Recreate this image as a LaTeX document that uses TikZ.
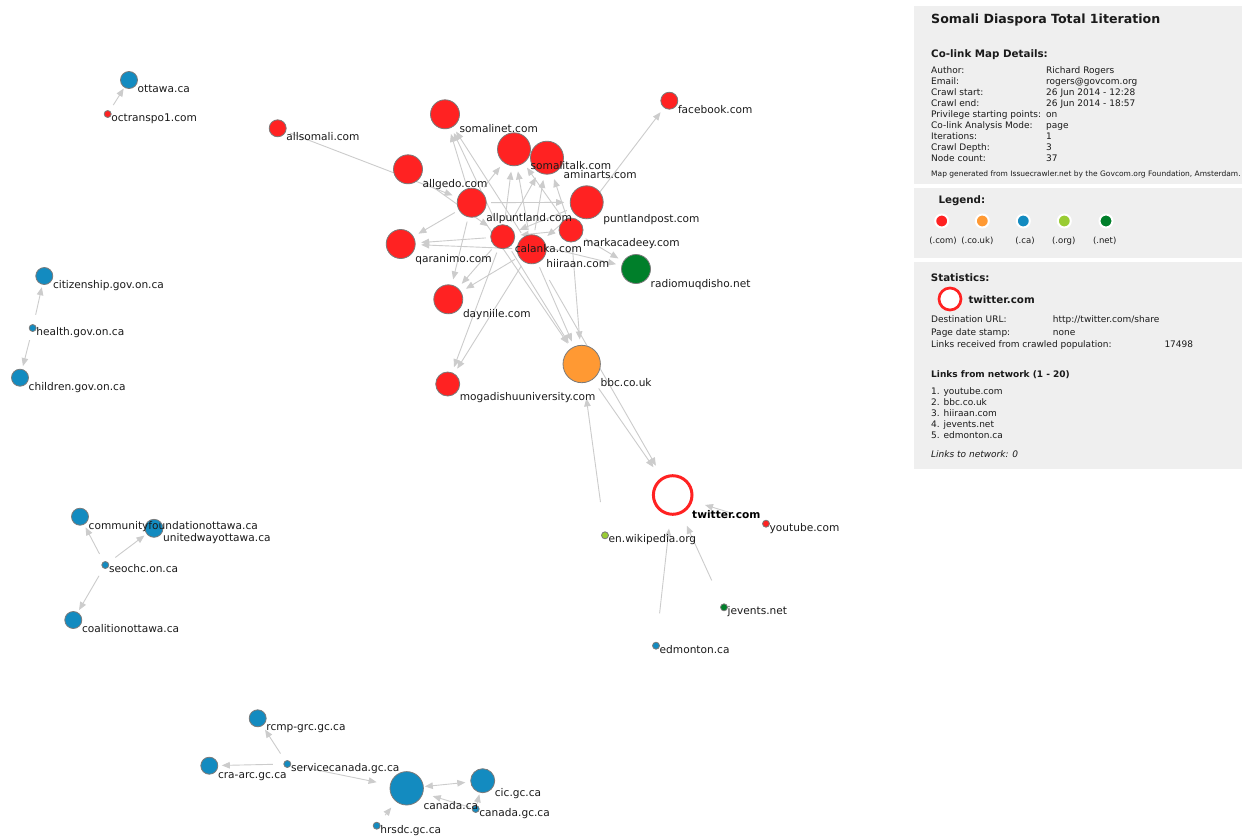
\documentclass[tikz,border=0pt]{standalone}
\usepackage{fontspec}
\setmainfont{DejaVu Sans}
\usetikzlibrary{arrows.meta}
\pgfdeclarelayer{edgelayer}
\pgfdeclarelayer{textlayer}
\pgfsetlayers{edgelayer,main,textlayer}

\definecolor{comRed}{HTML}{FF2222}
\definecolor{ukOrange}{HTML}{FF9933}
\definecolor{caBlue}{HTML}{138BC0}
\definecolor{orgGreen}{HTML}{99CC33}
\definecolor{netGreen}{HTML}{007F2A}
\definecolor{rimGray}{HTML}{7A7A7A}
\definecolor{linkGray}{HTML}{CCCCCC}
\definecolor{panelGray}{HTML}{EFEFEF}
\definecolor{inkBlack}{HTML}{1A1A1A}

\tikzset{
  site/.style={circle, draw=rimGray, line width=0.8pt, inner sep=0pt, outer sep=0pt},
  sitelabel/.style={anchor=base west, inner sep=0pt, text=inkBlack,
    font=\fontsize{10.6}{12}\selectfont},
  link/.style={draw=linkGray, line width=0.9pt,
    -{Triangle[length=8pt,width=6.5pt]}, shorten >=6pt, shorten <=5pt},
  panel/.style={fill=panelGray, draw=none},
  ptext/.style={anchor=base west, inner sep=0pt, text=inkBlack,
    font=\fontsize{9}{11}\selectfont},
  phead/.style={anchor=base west, inner sep=0pt, text=inkBlack,
    font=\fontsize{10.3}{12}\selectfont\bfseries},
  legdot/.style={circle, draw=white, line width=2pt, inner sep=0pt, minimum size=13pt},
}

% \site{name}{x}{y}{radius}{colour}{label}
\newcommand\site[6]{%
  \node[site, fill=#5, minimum size={2*#4pt}] (#1) at (#2,#3) {};
  \begin{pgfonlayer}{textlayer}
    \node[sitelabel] (#1-l) at (#2+#4,#3+#4+4) {#6};
  \end{pgfonlayer}%
}

\begin{document}
\begin{tikzpicture}[x=1pt,y=-1pt]
\useasboundingbox (0,0) rectangle (1242,838);
\begin{pgfonlayer}{edgelayer}
  \fill[white] (0,0) rectangle (1242,838);
\end{pgfonlayer}

% ---------- sites ----------
\site{ottawa}{129}{80}{8.5}{caBlue}{ottawa.ca}
\site{octranspo}{107.7}{114}{3.5}{comRed}{octranspo1.com}
\site{allsomali}{277.7}{128.3}{8.5}{comRed}{allsomali.com}
\site{somalinet}{445}{114.3}{14.5}{comRed}{somalinet.com}
\site{somalitalk}{514}{149.3}{16.5}{comRed}{somalitalk.com}
\site{aminarts}{547}{157.7}{16.5}{comRed}{aminarts.com}
\site{allgedo}{408}{169.3}{14.5}{comRed}{allgedo.com}
\site{puntlandpost}{586.7}{202.3}{16.5}{comRed}{puntlandpost.com}
\site{allpuntland}{471.7}{202.7}{14.5}{comRed}{allpuntland.com}
\site{markacadeey}{571}{230}{12}{comRed}{markacadeey.com}
\site{calanka}{502.7}{236.7}{12}{comRed}{calanka.com}
\site{hiiraan}{531.7}{249.3}{14.5}{comRed}{hiiraan.com}
\site{qaranimo}{400.7}{244}{14.5}{comRed}{qaranimo.com}
\site{radiomuqdisho}{636}{269}{14.5}{netGreen}{radiomuqdisho.net}
\site{dayniile}{448.3}{299.3}{14.5}{comRed}{dayniile.com}
\site{bbc}{581.7}{364}{18.7}{ukOrange}{bbc.co.uk}
\site{mogadishu}{447.7}{384}{12}{comRed}{mogadishuuniversity.com}
\site{facebook}{669.3}{100.7}{8.5}{comRed}{facebook.com}
\site{youtube}{766}{523.7}{3.5}{comRed}{youtube.com}
\site{wikipedia}{605}{535.3}{3.5}{orgGreen}{en.wikipedia.org}
\site{jevents}{724}{607.3}{3.5}{netGreen}{jevents.net}
\site{edmonton}{656}{645.7}{3.5}{caBlue}{edmonton.ca}
\site{citizenship}{44.3}{276}{8.5}{caBlue}{citizenship.gov.on.ca}
\site{health}{32.7}{328}{3.5}{caBlue}{health.gov.on.ca}
\site{children}{20}{377.7}{8.5}{caBlue}{children.gov.on.ca}
\site{communityfdn}{80}{516.7}{8.5}{caBlue}{communityfoundationottawa.ca}
\site{unitedway}{154}{528.3}{9}{caBlue}{unitedwayottawa.ca}
\site{seochc}{105.3}{565}{3.5}{caBlue}{seochc.on.ca}
\site{coalition}{73.3}{620}{8.5}{caBlue}{coalitionottawa.ca}
\site{rcmp}{257.7}{718.3}{8.5}{caBlue}{rcmp-grc.gc.ca}
\site{servicecanada}{287.3}{764}{3.5}{caBlue}{servicecanada.gc.ca}
\site{craarc}{209.3}{765.7}{8.5}{caBlue}{cra-arc.gc.ca}
\site{canadaca}{406.7}{788.3}{16.7}{caBlue}{canada.ca}
\site{cic}{482.7}{780.7}{12}{caBlue}{cic.gc.ca}
\site{canadagc}{475.7}{809}{3.5}{caBlue}{canada.gc.ca}
\site{hrsdc}{376.7}{825.7}{3.5}{caBlue}{hrsdc.gc.ca}

% the selected site: an open ring
\node[circle, draw=comRed, line width=3pt, fill=white, inner sep=0pt,
      minimum size=38.6pt] (twitter) at (672.7,495) {};
\begin{pgfonlayer}{textlayer}
  \node[sitelabel, font=\fontsize{10.6}{12}\selectfont\bfseries, text=black]
    (twitter-l) at (692,518.3) {twitter.com};
\end{pgfonlayer}

% ---------- links ----------
\begin{pgfonlayer}{edgelayer}
\draw[link] (allsomali) -- (allpuntland);
\draw[link] (allpuntland) -- (somalinet);
\draw[link] (calanka) -- (somalinet);
\draw[link] (hiiraan) -- (somalinet);
\draw[link] (allpuntland) -- (somalitalk);
\draw[link] (calanka) -- (somalitalk);
\draw[link] (hiiraan) -- (somalitalk);
\draw[link] (markacadeey) -- (somalitalk);
\draw[link] (calanka) -- (aminarts);
\draw[link] (hiiraan) -- (aminarts);
\draw[link] (markacadeey) -- (aminarts);
\draw[link] (allpuntland) -- (puntlandpost);
\draw[link] (allgedo) -- (calanka);
\draw[link] (puntlandpost) -- (calanka);
\draw[link] (markacadeey) -- (calanka);
\draw[link] (puntlandpost) -- (hiiraan);
\draw[link] (allpuntland) -- (qaranimo);
\draw[link] (calanka) -- (qaranimo);
\draw[link] (hiiraan) -- (qaranimo);
\draw[link] (allpuntland) -- (dayniile);
\draw[link] (calanka) -- (dayniile);
\draw[link] (hiiraan) -- (dayniile);
\draw[link] (calanka) -- (mogadishu);
\draw[link] (hiiraan) -- (mogadishu);
\draw[link] (allpuntland) -- (bbc);
\draw[link] (calanka) -- (bbc);
\draw[link] (hiiraan) -- (bbc);
\draw[link] (markacadeey) -- (bbc);
\draw[link] (markacadeey) -- (radiomuqdisho);
\draw[link] (calanka) -- (radiomuqdisho);
\draw[link] (markacadeey) -- (facebook);
\draw[link, shorten <=21pt, shorten >=13pt] (hiiraan) -- (twitter);
\draw[link, shorten <=11pt, shorten >=13pt] (bbc) -- (twitter);
\draw[link, shorten <=30pt, shorten >=16pt] (wikipedia) -- (bbc);
\draw[link, shorten <=34pt, shorten >=13pt] (youtube) -- (twitter);
\draw[link, shorten <=26pt, shorten >=13pt] (jevents) -- (twitter);
\draw[link, shorten <=29pt, shorten >=13pt] (edmonton) -- (twitter);
\draw[link, shorten <=7pt, shorten >=1.5pt] (octranspo) -- (ottawa);
\draw[link, shorten <=10pt, shorten >=3pt] (health) -- (citizenship);
\draw[link, shorten <=9pt, shorten >=3.5pt] (health) -- (children);
\draw[link, shorten <=9pt, shorten >=3.5pt] (seochc) -- (communityfdn);
\draw[link, shorten <=9pt, shorten >=3pt] (seochc) -- (unitedway);
\draw[link, shorten <=9pt, shorten >=3pt] (seochc) -- (coalition);
\draw[link, shorten <=9pt, shorten >=5pt] (servicecanada) -- (rcmp);
\draw[link, shorten <=11pt, shorten >=4pt] (servicecanada) -- (craarc);
\draw[link, shorten <=11.5pt, shorten >=14pt] (servicecanada) -- (canadaca);
\draw[link, {Triangle[length=8pt,width=6.5pt]}-{Triangle[length=8pt,width=6.5pt]},
      shorten <=1.5pt, shorten >=5.5pt] (canadaca) -- (cic);
\draw[link, shorten <=3pt, shorten >=10.5pt] (canadagc) -- (canadaca);
\draw[link, shorten <=2pt, shorten >=2pt] (canadagc) -- (cic);
\draw[link, shorten <=10pt, shorten >=8pt] (hrsdc) -- (canadaca);
\end{pgfonlayer}

% ---------- side panels ----------
\fill[panel] (914,6) rectangle (1242,184.3);
\fill[panel] (914,188.3) rectangle (1242,258.3);
\fill[panel] (914,262.3) rectangle (1242,469.3);

\node[anchor=base west, inner sep=0pt, text=inkBlack,
      font=\fontsize{12.6}{15}\selectfont\bfseries] (title) at (931,23.5)
      {Somali Diaspora Total 1iteration};
\node[phead] (details) at (931,57) {Co-link Map Details:};

\node[ptext] (k1) at (931,73.2) {Author:};
\node[ptext] (v1) at (1046,73.2) {Richard Rogers};
\node[ptext] (k2) at (931,84.25) {Email:};
\node[ptext] (v2) at (1046,84.25) {rogers@govcom.org};
\node[ptext] (k3) at (931,95.3) {Crawl start:};
\node[ptext] (v3) at (1046,95.3) {26 Jun 2014 - 12:28};
\node[ptext] (k4) at (931,106.35) {Crawl end:};
\node[ptext] (v4) at (1046,106.35) {26 Jun 2014 - 18:57};
\node[ptext] (k5) at (931,117.4) {Privilege starting points:};
\node[ptext] (v5) at (1046,117.4) {on};
\node[ptext] (k6) at (931,128.45) {Co-link Analysis Mode:};
\node[ptext] (v6) at (1046,128.45) {page};
\node[ptext] (k7) at (931,139.5) {Iterations:};
\node[ptext] (v7) at (1046,139.5) {1};
\node[ptext] (k8) at (931,150.55) {Crawl Depth:};
\node[ptext] (v8) at (1046,150.55) {3};
\node[ptext] (k9) at (931,161.6) {Node count:};
\node[ptext] (v9) at (1046,161.6) {37};
\node[ptext, font=\fontsize{7.5}{9}\selectfont] (credit) at (931,176.2)
  {Map generated from Issuecrawler.net by the Govcom.org Foundation, Amsterdam.};

% legend
\node[phead] (legend) at (938.3,203) {Legend:};
\node[legdot, fill=comRed]   (lg1) at (941.7,221) {};
\node[legdot, fill=ukOrange] (lg2) at (982.3,221) {};
\node[legdot, fill=caBlue]   (lg3) at (1023.3,221) {};
\node[legdot, fill=orgGreen] (lg4) at (1064.3,221) {};
\node[legdot, fill=netGreen] (lg5) at (1106,221) {};
\tikzset{legtext/.style={inner sep=0pt, text=inkBlack, font=\fontsize{8.5}{10}\selectfont}}
\node[legtext] (lt1) at (943,240.7) {(.com)};
\node[legtext] (lt2) at (977.3,240.7) {(.co.uk)};
\node[legtext] (lt3) at (1025,240.7) {(.ca)};
\node[legtext] (lt4) at (1063.7,240.7) {(.org)};
\node[legtext] (lt5) at (1104.7,240.7) {(.net)};

% statistics
\node[phead] (stats) at (930.7,281) {Statistics:};
\node[circle, draw=comRed, line width=2.7pt, fill=white, inner sep=0pt,
      minimum size=22pt] (statring) at (950,299) {};
\node[phead] (statname) at (968.3,303) {twitter.com};
\node[ptext] (s1) at (931,322.3) {Destination URL:};
\node[ptext] (s1v) at (1052.7,322.3) {http://twitter.com/share};
\node[ptext] (s2) at (931,335) {Page date stamp:};
\node[ptext] (s2v) at (1052.7,335) {none};
\node[ptext] (s3) at (931,347.5) {Links received from crawled population:};
\node[ptext] (s3v) at (1164.3,347.5) {17498};
\node[ptext, font=\fontsize{9}{11}\selectfont\bfseries] (fromnet) at (931,377.5)
  {Links from network (1 - 20)};
\node[ptext] (l1) at (931,394) {1. youtube.com};
\node[ptext] (l2) at (931,405.2) {2. bbc.co.uk};
\node[ptext] (l3) at (931,416.4) {3. hiiraan.com};
\node[ptext] (l4) at (931,427.6) {4. jevents.net};
\node[ptext] (l5) at (931,438.8) {5. edmonton.ca};
\node[ptext, font=\fontsize{9}{11}\selectfont\itshape] (tonet) at (931,457)
  {Links to network: 0};
\end{tikzpicture}
\end{document}
